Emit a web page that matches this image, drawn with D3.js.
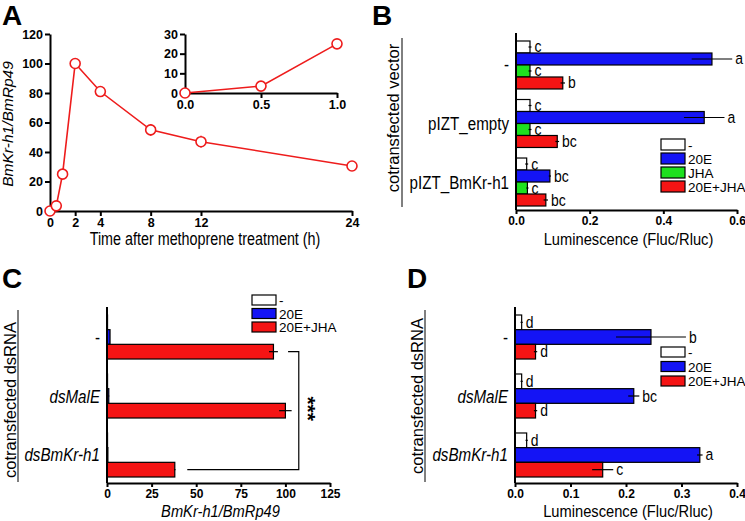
<!DOCTYPE html>
<html>
<head>
<meta charset="utf-8">
<script src="https://cdn.jsdelivr.net/npm/d3@7"></script>
<style>
body{margin:0;background:#fff}
svg{display:block;font-family:"Liberation Sans",Arial,Helvetica,sans-serif}
.axis text{font-weight:bold;fill:#000}
.axis path,.axis line{stroke:#000;stroke-width:2}
</style>
</head>
<body>
<div id="chart"></div>
<script>
// ---- panel A: time course
var timeHours = [0, 0.5, 1, 2, 4, 8, 12, 24];
var krLevel   = [0, 3.5, 25, 100, 81, 55, 47, 30.5];
var krErr     = [0, 0.5, 1, 2, 2, 4, 4, 1];
var timeTicks = [0, 2, 4, 8, 12, 24];
var levelTicks = [0, 20, 40, 60, 80, 100, 120];
var insetHours = [0, 0.5, 1];
var insetLevel = [0, 3.5, 25];
var insetXTicks = [0, 0.5, 1];
var insetYTicks = [0, 10, 20, 30];

// ---- panel B: cotransfected vector
var vectorGroups = ["-", "pIZT_empty", "pIZT_BmKr-h1"];
var treatB = ["-", "20E", "JHA", "20E+JHA"];
var lumB = [[0.038, 0.532, 0.038, 0.127],
            [0.038, 0.511, 0.038, 0.112],
            [0.029, 0.092, 0.031, 0.081]];
var lumBErr = [[0.004, 0.055, 0.004, 0.006],
               [0.004, 0.055, 0.004, 0.005],
               [0.004, 0.003, 0.003, 0.006]];
var lettersB = [["c", "a", "c", "b"],
                ["c", "a", "c", "bc"],
                ["c", "bc", "c", "bc"]];
var lumBTicks = [0, 0.2, 0.4, 0.6];

// ---- panel C: dsRNA, qPCR
var dsGroups = ["-", "dsMalE", "dsBmKr-h1"];
var treatCD = ["-", "20E", "20E+JHA"];
var exprC = [[0.3, 1.7, 93.3],
             [0.3, 1.0, 100],
             [0.3, 0.5, 38]];
var exprCErr = [[0, 0, 2.5],
                [0, 0.3, 3.5],
                [0, 0, 0.4]];
var exprCTicks = [0, 25, 50, 75, 100, 125];

// ---- panel D: dsRNA, luciferase
var lumD = [[0.012, 0.245, 0.037],
            [0.012, 0.214, 0.037],
            [0.021, 0.333, 0.158]];
var lumDErr = [[0.002, 0.063, 0.003],
               [0.002, 0.01, 0.003],
               [0.002, 0.005, 0.019]];
var lettersD = [["d", "b", "d"],
                ["d", "bc", "d"],
                ["d", "a", "c"]];
var lumDTicks = [0, 0.1, 0.2, 0.3, 0.4];

var colors = {"-": "#ffffff", "20E": "#1414f5", "JHA": "#1ee01e", "20E+JHA": "#f51414"};
var red = "#ee1c1c";
var squeeze = 0.82;   // the original figure's text is a little condensed

var svg = d3.select("#chart").append("svg")
    .attr("width", 745).attr("height", 521);

// text placed with a horizontal squeeze
function sqText(parent, x, y, size, str, k){
  return parent.append("text")
    .attr("transform", "translate(" + x + "," + y + ") scale(" + (k || squeeze) + ",1)")
    .style("font-size", size + "px").text(str);
}

function panelLetter(t, x, y){
  svg.append("text").attr("x", x).attr("y", y)
    .style("font-size", "28px").style("font-weight", "bold").text(t);
}

// ================= A =================
(function(){
  var x = d3.scaleLinear().domain([0, 24]).range([50, 352]);
  var y = d3.scaleLinear().domain([0, 120]).range([211, 34]);
  var g = svg.append("g");

  g.append("g").attr("class", "axis").attr("transform", "translate(0,211)")
    .call(d3.axisBottom(x).tickValues(timeTicks).tickSize(5).tickSizeOuter(0).tickPadding(2))
    .selectAll("text").style("font-size", "12.5px");
  g.append("g").attr("class", "axis").attr("transform", "translate(50,0)")
    .call(d3.axisLeft(y).tickValues(levelTicks).tickSize(5).tickSizeOuter(0).tickPadding(2))
    .selectAll("text").style("font-size", "12.5px");

  var pts = timeHours.map(function(t, i){ return {t: t, v: krLevel[i], e: krErr[i]}; });
  g.append("path").datum(pts)
    .attr("fill", "none").attr("stroke", red).attr("stroke-width", 1.6)
    .attr("d", d3.line().x(function(d){ return x(d.t); }).y(function(d){ return y(d.v); }));
  g.selectAll(".eb").data(pts).enter().append("line")
    .attr("x1", function(d){ return x(d.t); }).attr("x2", function(d){ return x(d.t); })
    .attr("y1", function(d){ return y(d.v - d.e); }).attr("y2", function(d){ return y(d.v + d.e); })
    .attr("stroke", red).attr("stroke-width", 1.6);
  g.selectAll(".pt").data(pts).enter().append("circle")
    .attr("cx", function(d){ return x(d.t); }).attr("cy", function(d){ return y(d.v); })
    .attr("r", 5).attr("fill", "#fff").attr("stroke", red).attr("stroke-width", 1.6);

  g.append("text").attr("transform", "translate(13,124) rotate(-90)")
    .attr("text-anchor", "middle").style("font-size", "15.5px").style("font-style", "italic")
    .text("BmKr-h1/BmRp49");
  sqText(g, 205, 245, 17.5, "Time after methoprene treatment (h)").attr("text-anchor", "middle");

  // inset
  var xi = d3.scaleLinear().domain([0, 1]).range([185, 337]);
  var yi = d3.scaleLinear().domain([0, 30]).range([93, 34]);
  g.append("g").attr("class", "axis").attr("transform", "translate(0,93)")
    .call(d3.axisBottom(xi).tickValues(insetXTicks).tickFormat(d3.format(".1f")).tickSize(5).tickSizeOuter(0).tickPadding(2))
    .selectAll("text").style("font-size", "12.5px");
  g.append("g").attr("class", "axis").attr("transform", "translate(185,0)")
    .call(d3.axisLeft(yi).tickValues(insetYTicks).tickSize(5).tickSizeOuter(0).tickPadding(2))
    .selectAll("text").style("font-size", "12.5px");
  var ipts = insetHours.map(function(t, i){ return {t: t, v: insetLevel[i]}; });
  g.append("path").datum(ipts)
    .attr("fill", "none").attr("stroke", red).attr("stroke-width", 1.6)
    .attr("d", d3.line().x(function(d){ return xi(d.t); }).y(function(d){ return yi(d.v); }));
  g.selectAll(".ipt").data(ipts).enter().append("circle")
    .attr("cx", function(d){ return xi(d.t); }).attr("cy", function(d){ return yi(d.v); })
    .attr("r", 5).attr("fill", "#fff").attr("stroke", red).attr("stroke-width", 1.6);

  panelLetter("A", 2, 25);
})();

// ================= bar panels =================
function barPanel(o){
  var x = d3.scaleLinear().domain(o.domain).range([o.x0, o.x1]);
  var y = d3.scaleBand().domain(o.groups).range([o.yTop, o.yBot]).paddingInner(o.pad).paddingOuter(0);
  var yi = d3.scaleBand().domain(o.series).range([0, y.bandwidth()]);
  var g = svg.append("g");

  var rows = [];
  o.groups.forEach(function(gr, gi){
    o.series.forEach(function(s, si){
      rows.push({g: gr, s: s, v: o.values[gi][si], e: o.errs[gi][si],
                 l: o.letters ? o.letters[gi][si] : null});
    });
  });
  function mid(d){ return y(d.g) + yi(d.s) + yi.bandwidth() / 2; }

  g.selectAll(".bar").data(rows).enter().append("rect")
    .attr("x", x(0)).attr("y", function(d){ return y(d.g) + yi(d.s); })
    .attr("width", function(d){ return x(d.v) - x(0); })
    .attr("height", yi.bandwidth())
    .attr("fill", function(d){ return colors[d.s]; })
    .attr("stroke", "#000").attr("stroke-width", 1.2);

  g.selectAll(".err").data(rows.filter(function(d){ return d.e > 0; })).enter().append("line")
    .attr("x1", function(d){ return x(Math.max(0, d.v - d.e)); })
    .attr("x2", function(d){ return x(d.v + d.e); })
    .attr("y1", mid).attr("y2", mid)
    .attr("stroke", "#000").attr("stroke-width", 1.2);

  if (o.letters) {
    g.selectAll(".lt").data(rows).enter().append("text")
      .attr("transform", function(d){
        return "translate(" + (x(d.v + d.e) + 3) + "," + (mid(d) + 5.5) + ") scale(" + squeeze + ",1)";
      })
      .style("font-size", "17px").text(function(d){ return d.l; });
  }

  g.append("g").attr("class", "axis").attr("transform", "translate(0," + o.axisY + ")")
    .call(d3.axisBottom(x).tickValues(o.ticks).tickFormat(o.fmt).tickSize(4).tickSizeOuter(0).tickPadding(2))
    .selectAll("text").style("font-size", "12px");
  g.append("line").attr("x1", x(0)).attr("x2", x(0))
    .attr("y1", o.axisTop).attr("y2", o.axisY)
    .attr("stroke", "#000").attr("stroke-width", 2);

  g.selectAll(".cat").data(o.groups).enter().append("text")
    .attr("transform", function(d){
      return "translate(" + (x(0) - 7) + "," + (y(d) + y.bandwidth() / 2 + 6.5) + ") scale(" + squeeze + ",1)";
    })
    .attr("text-anchor", "end").style("font-size", "18.5px")
    .style("font-style", function(d){ return o.italicCats && d !== "-" ? "italic" : "normal"; })
    .text(function(d){ return d; });

  g.append("text").attr("transform", "translate(" + o.vlabX + "," + o.vlabY + ") rotate(-90)")
    .attr("text-anchor", "middle").style("font-size", "16.5px").text(o.vlabel);
  g.append("line").attr("x1", o.vlineX).attr("x2", o.vlineX)
    .attr("y1", o.vlineY0).attr("y2", o.vlineY1).attr("stroke", "#000").attr("stroke-width", 1);

  sqText(g, (o.x0 + o.x1) / 2 + 2, o.titleY, 16.5, o.title, 0.89)
    .attr("text-anchor", "middle").style("font-style", o.titleItalic ? "italic" : "normal");

  var lg = g.append("g").attr("transform", "translate(" + o.legX + "," + o.legY + ")");
  o.series.forEach(function(s, i){
    lg.append("rect").attr("x", 0).attr("y", i * o.legStep).attr("width", 24).attr("height", o.legH)
      .attr("fill", colors[s]).attr("stroke", "#000").attr("stroke-width", 1.2);
    lg.append("text").attr("x", 27).attr("y", i * o.legStep + o.legH / 2 + 5)
      .style("font-size", "13.5px").text(s);
  });

  return {x: x, y: y, yi: yi, g: g};
}

var pB = barPanel({
  groups: vectorGroups, series: treatB, values: lumB, errs: lumBErr, letters: lettersB,
  domain: [0, 0.6], x0: 516, x1: 737, yTop: 41, yBot: 206, pad: 0.18,
  axisY: 210, axisTop: 33, ticks: lumBTicks, fmt: d3.format(".1f"),
  vlabel: "cotransfected vector", vlabX: 399, vlabY: 118, vlineX: 402, vlineY0: 38, vlineY1: 207,
  title: "Luminescence (Fluc/Rluc)", titleY: 245,
  legX: 661, legY: 139, legStep: 14, legH: 11
});
panelLetter("B", 372, 25);

var pC = barPanel({
  groups: dsGroups, series: treatCD, values: exprC, errs: exprCErr, letters: null, italicCats: true,
  domain: [0, 125], x0: 107, x1: 330, yTop: 315, yBot: 477, pad: 0.254,
  axisY: 483, axisTop: 307, ticks: exprCTicks, fmt: d3.format("d"),
  vlabel: "cotransfected dsRNA", vlabX: 16, vlabY: 400, vlineX: 18, vlineY0: 310, vlineY1: 482,
  title: "BmKr-h1/BmRp49", titleY: 517, titleItalic: true,
  legX: 252, legY: 295, legStep: 13.5, legH: 10
});
panelLetter("C", 2, 288);

// significance bracket in C
(function(){
  var x = pC.x, y = pC.y, yi = pC.yi;
  var yTopRow = y(dsGroups[0]) + yi("20E+JHA") + yi.bandwidth() / 2;
  var yBotRow = y(dsGroups[2]) + yi("20E+JHA") + yi.bandwidth() / 2;
  pC.g.append("path")
    .attr("d", "M" + x(101.5) + "," + yTopRow + "H" + x(107.5) + "V" + yBotRow + "H" + x(45))
    .attr("fill", "none").attr("stroke", "#000").attr("stroke-width", 1.2);
  pC.g.append("text").attr("transform", "translate(" + (x(107.5) + 2) + "," + ((yTopRow + yBotRow) / 2 - 2) + ") rotate(90)")
    .attr("text-anchor", "middle").style("font-size", "21px").style("font-weight", "bold").text("***");
})();

barPanel({
  groups: dsGroups, series: treatCD, values: lumD, errs: lumDErr, letters: lettersD, italicCats: true,
  domain: [0, 0.4], x0: 515, x1: 737, yTop: 315, yBot: 477, pad: 0.254,
  axisY: 483, axisTop: 307, ticks: lumDTicks, fmt: d3.format(".1f"),
  vlabel: "cotransfected dsRNA", vlabX: 423, vlabY: 396, vlineX: 425, vlineY0: 310, vlineY1: 482,
  title: "Luminescence (Fluc/Rluc)", titleY: 517,
  legX: 661, legY: 347, legStep: 14.5, legH: 10
});
panelLetter("D", 407, 288);
</script>
</body>
</html>
